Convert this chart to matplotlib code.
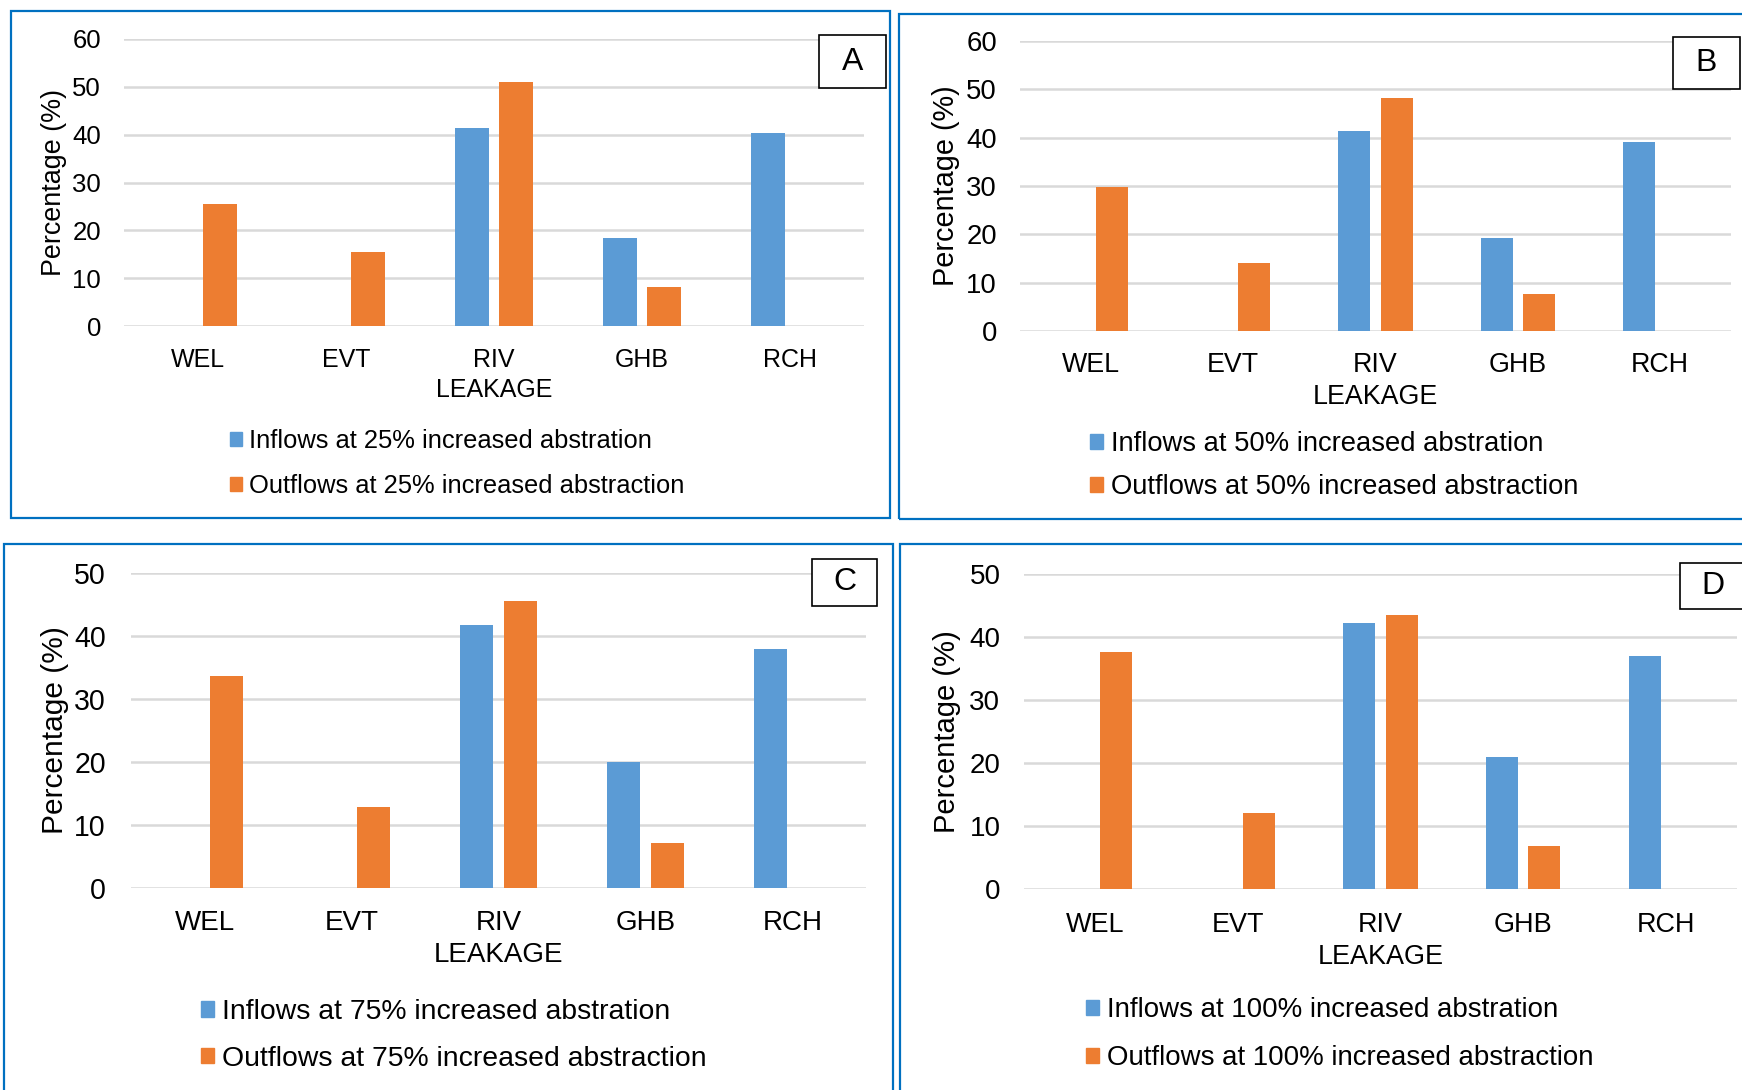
import matplotlib
matplotlib.use("Agg")
import matplotlib.pyplot as plt
from matplotlib.patches import Rectangle, Patch

plt.rcParams['font.family'] = ['Liberation Sans', 'DejaVu Sans']

# Water budget components
categories = ["WEL", "EVT", "RIV\nLEAKAGE", "GHB", "RCH"]

# Percentage share of each budget term per abstraction scenario
inflow_25 = [0, 0, 41.4, 18.5, 40.3]
outflow_25 = [25.5, 15.5, 51.0, 8.1, 0]
inflow_50 = [0, 0, 41.4, 19.2, 39.0]
outflow_50 = [29.7, 14.1, 48.2, 7.7, 0]
inflow_75 = [0, 0, 41.8, 20.0, 37.9]
outflow_75 = [33.7, 12.9, 45.6, 7.2, 0]
inflow_100 = [0, 0, 42.2, 21.0, 37.0]
outflow_100 = [37.6, 12.0, 43.5, 6.9, 0]

scenarios = ["25%", "50%", "75%", "100%"]
panel_letters = ["A", "B", "C", "D"]
y_max = [60, 60, 50, 50]

W, H = 1742, 1090
BLUE = "#5B9BD5"
ORANGE = "#ED7D31"
GRID = "#D9D9D9"
FRAME = "#0070C0"

fig = plt.figure(figsize=(W / 100, H / 100), dpi=100)


def fx(x):
    return x / W


def fy(y):
    return 1 - y / H


# pixel layout of each panel; fs = font scale of the panel
panels = [
    dict(frame=(11, 11, 890, 518), plot=(124, 39, 864, 326), box=(819, 35, 886, 88),
         leg_x=230, leg_rows=(441, 486), ylab_x=54, fs=1.0, xpad=16.0, ypad=16.5),
    dict(frame=(899, 14, 1750, 519), plot=(1020, 41, 1731, 331), box=(1673, 37, 1740, 89),
         leg_x=1090, leg_rows=(444, 487), ylab_x=946, fs=1.07, xpad=15.0, ypad=16.5),
    dict(frame=(4, 544, 893, 1100), plot=(131, 573, 866, 888), box=(812, 559, 877, 606),
         leg_x=201, leg_rows=(1012, 1059), ylab_x=55, fs=1.11, xpad=16.0, ypad=18.0),
    dict(frame=(900, 544, 1750, 1100), plot=(1024, 574, 1737, 889), box=(1680, 563, 1745, 609),
         leg_x=1086, leg_rows=(1010, 1058), ylab_x=947, fs=1.08, xpad=16.3, ypad=17.0),
]

inflows = [inflow_25, inflow_50, inflow_75, inflow_100]
outflows = [outflow_25, outflow_50, outflow_75, outflow_100]

for i, p in enumerate(panels):
    fs = p["fs"]
    x0, y0, x1, y1 = p["frame"]
    fig.add_artist(Rectangle((fx(x0), fy(y1)), fx(x1 - x0), (y1 - y0) / H,
                             transform=fig.transFigure, fill=False,
                             ec=FRAME, lw=1.6, zorder=0))

    px0, py0, px1, py1 = p["plot"]
    ax = fig.add_axes([fx(px0), fy(py1), fx(px1 - px0), (py1 - py0) / H])
    xs = range(len(categories))
    bw = 0.225
    off = 0.148
    ax.bar([x - off for x in xs], inflows[i], width=bw, color=BLUE, zorder=3)
    ax.bar([x + off for x in xs], outflows[i], width=bw, color=ORANGE, zorder=3)
    ax.set_xlim(-0.5, len(categories) - 0.5)
    ax.set_ylim(0, y_max[i])
    ax.set_yticks(range(0, y_max[i] + 1, 10))
    ax.set_xticks(list(xs))
    ax.set_xticklabels(categories, fontsize=18 * fs, linespacing=1.31)
    ax.tick_params(axis="y", length=0, pad=p["ypad"], labelsize=18.5 * fs)
    ax.tick_params(axis="x", length=0, pad=p["xpad"])
    ax.yaxis.grid(True, color=GRID, lw=1.8, zorder=0)
    ax.set_axisbelow(True)
    for s in ax.spines.values():
        s.set_visible(False)
    ax.set_ylabel("Percentage (%)", fontsize=19.4 * fs)
    ax.yaxis.label.set_verticalalignment("center")
    ax.yaxis.set_label_coords((p["ylab_x"] - px0) / (px1 - px0), 0.5)

    # legend: two rows, stacked vertically below the axis labels
    em = 18.4 * fs * 100 / 72
    r0, r1 = p["leg_rows"]
    ls = (r1 - r0) / em - 0.94
    handles = [Patch(color=BLUE), Patch(color=ORANGE)]
    fig.legend(handles, [f"Inflows at {scenarios[i]} increased abstration",
                         f"Outflows at {scenarios[i]} increased abstraction"],
               loc="center left", bbox_to_anchor=(fx(p["leg_x"]), fy((r0 + r1) / 2)),
               frameon=False, fontsize=18.4 * fs, handlelength=0.47, handleheight=0.47,
               handletextpad=0.28, labelspacing=ls, borderpad=0, borderaxespad=0)

    bx0, by0, bx1, by1 = p["box"]
    fig.add_artist(Rectangle((fx(bx0), fy(by1)), fx(bx1 - bx0), (by1 - by0) / H,
                             transform=fig.transFigure, fc="white", ec="black",
                             lw=1.2, zorder=5))
    fig.text(fx((bx0 + bx1) / 2), fy((by0 + by1) / 2), panel_letters[i],
             ha="center", va="center", fontsize=23, zorder=6)

fig.savefig("out.png", dpi=100, facecolor="white")
